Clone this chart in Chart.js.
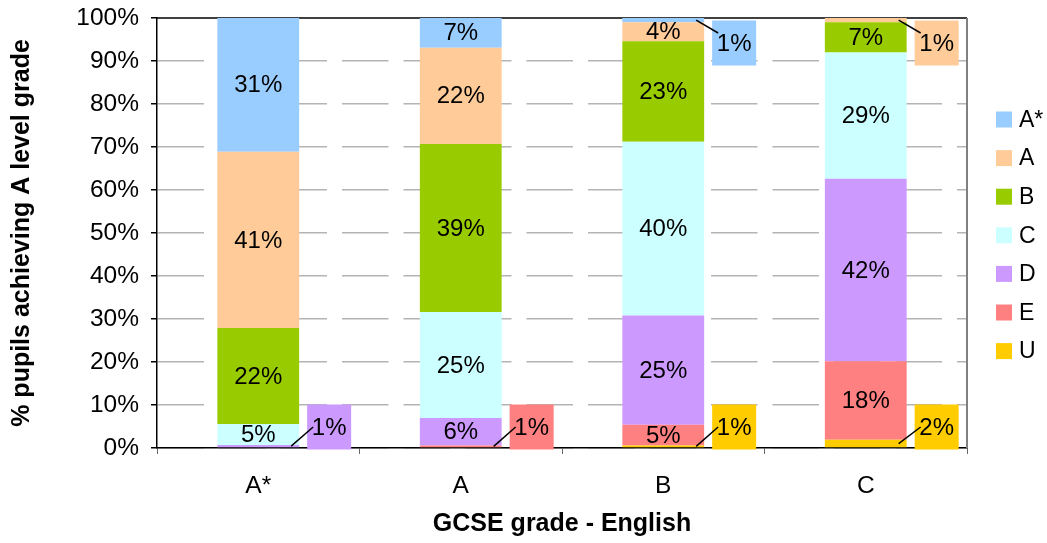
<!DOCTYPE html>
<html>
<head>
<meta charset="utf-8">
<script src="https://cdn.jsdelivr.net/npm/chart.js@4"></script>
<style>
  html, body { margin: 0; padding: 0; background: #fff; }
</style>
</head>
<body>
<canvas id="myChart" width="1047" height="543"></canvas>
<script>
// GCSE English grade (x axis categories)
const categories = ['A*', 'A', 'B', 'C'];

// A level grade shares (%), one array per A level grade, stacked bottom -> top
const gradeU  = [0,    0,    0.6,  1.9];
const gradeE  = [0,    0.6,  4.8,  18.3];
const gradeD  = [0.7,  6.4,  25.4, 42.4];
const gradeC  = [4.9,  24.6, 40.4, 29.4];
const gradeB  = [22.3, 39.1, 23.4, 7.0];
const gradeA  = [41.0, 22.4, 4.4,  1.0];
const gradeAS = [31.1, 6.9,  1.0,  0];

const seriesNames = ['U', 'E', 'D', 'C', 'B', 'A', 'A*'];
const seriesData = [gradeU, gradeE, gradeD, gradeC, gradeB, gradeA, gradeAS];
const seriesColors = ['#FFCC00', '#FF8080', '#CC99FF', '#CCFFFF', '#99CC00', '#FFCC99', '#99CCFF'];

const FONT = "'Liberation Sans', Arial, sans-serif";

// extra lines: solid black 100% line + grey right edge
const frameLines = {
    id: 'frameLines',
    beforeDatasetsDraw(chart) {
        const ctx = chart.ctx, a = chart.chartArea;
        const y100 = chart.scales.y.getPixelForValue(100);
        ctx.save();
        ctx.strokeStyle = '#000';
        ctx.lineWidth = 1.5;
        ctx.beginPath();
        ctx.moveTo(a.left, y100);
        ctx.lineTo(a.right, y100);
        ctx.stroke();
        ctx.strokeStyle = '#808080';
        ctx.lineWidth = 2;
        ctx.beginPath();
        ctx.moveTo(a.right, a.top);
        ctx.lineTo(a.right, a.bottom);
        ctx.stroke();
        ctx.restore();
    }
};

// value labels, small ones get a callout box with a leader line
const valueLabels = {
    id: 'valueLabels',
    afterDatasetsDraw(chart) {
        const ctx = chart.ctx, a = chart.chartArea;
        ctx.save();
        ctx.font = '24px ' + FONT;
        ctx.textAlign = 'center';
        ctx.textBaseline = 'middle';
        chart.data.datasets.forEach((ds, di) => {
            const meta = chart.getDatasetMeta(di);
            meta.data.forEach((el, i) => {
                const v = ds.data[i];
                if (!v) return;
                const p = el.getProps(['x', 'y', 'base', 'width'], true);
                const segC = (p.y + p.base) / 2;
                const txt = Math.round(v) + '%';
                if (v >= 3) {
                    ctx.fillStyle = '#000';
                    ctx.fillText(txt, p.x, segC + 1);
                    return;
                }
                const bw = 44, bh = 45;
                const bx = p.x + p.width / 2 + 8;
                const cy = Math.min(Math.max(segC, a.top + 25), a.bottom - 21);
                ctx.fillStyle = ds.backgroundColor;
                ctx.fillRect(bx, cy - bh / 2, bw, bh);
                ctx.strokeStyle = '#000';
                ctx.lineWidth = 1.5;
                ctx.beginPath();
                ctx.moveTo(p.x + p.width / 2 - 8, segC);
                ctx.lineTo(bx + 6, cy + (segC < cy ? -10 : 0));
                ctx.stroke();
                ctx.fillStyle = '#000';
                ctx.fillText(txt, bx + bw / 2, cy + 1);
            });
        });
        ctx.restore();
    }
};

// legend on the right, A* at top
const sideLegend = {
    id: 'sideLegend',
    afterDraw(chart) {
        const ctx = chart.ctx;
        ctx.save();
        ctx.font = '23px ' + FONT;
        ctx.textAlign = 'left';
        ctx.textBaseline = 'middle';
        const n = seriesNames.length;
        for (let k = 0; k < n; k++) {
            const idx = n - 1 - k;
            const cy = 119.5 + k * 38.6;
            ctx.fillStyle = seriesColors[idx];
            ctx.fillRect(996, cy - 8, 16, 16);
            ctx.fillStyle = '#000';
            ctx.fillText(seriesNames[idx], 1019, cy + 1);
        }
        ctx.restore();
    }
};

const ctx = document.getElementById('myChart').getContext('2d');
const chart = new Chart(ctx, {
    type: 'bar',
    data: {
        labels: categories,
        datasets: seriesNames.map((name, k) => ({
            label: name,
            data: seriesData[k],
            backgroundColor: seriesColors[k],
            borderWidth: 0,
            barPercentage: 0.404,
            categoryPercentage: 1
        }))
    },
    options: {
        responsive: false,
        animation: false,
        devicePixelRatio: 1,
        layout: { padding: { top: 18, right: 80, left: 0, bottom: 0 } },
        plugins: {
            legend: { display: false },
            tooltip: { enabled: false }
        },
        scales: {
            x: {
                stacked: true,
                afterFit(scale) {
                    scale.height = 95;
                    scale.paddingLeft = 0;
                    scale.paddingRight = 0;
                },
                grid: {
                    display: true,
                    drawOnChartArea: false,
                    offset: true,
                    tickLength: 6,
                    tickColor: '#666'
                },
                border: { display: true, color: '#000', width: 1.5 },
                ticks: {
                    color: '#000',
                    padding: 18,
                    font: { family: FONT, size: 24.5 }
                },
                title: {
                    display: true,
                    text: 'GCSE grade - English',
                    color: '#000',
                    font: { family: FONT, size: 25, weight: 'bold' },
                    padding: { top: 0, bottom: 4 }
                }
            },
            y: {
                stacked: true,
                min: 0,
                max: 100,
                afterFit(scale) {
                    scale.width = 157;
                    scale.paddingTop = 0;
                    scale.paddingBottom = 0;
                },
                grid: {
                    color: c => c.tick && c.tick.value === 100 ? 'rgba(0,0,0,0)' : '#b4b4b4',
                    tickColor: '#000',
                    tickLength: 6,
                    lineWidth: 1.5
                },
                border: { display: true, color: '#000', width: 1.5, dash: [46.5, 15] },
                ticks: {
                    stepSize: 10,
                    color: '#000',
                    padding: 12,
                    font: { family: FONT, size: 24.5 },
                    callback: v => v + '%'
                },
                title: {
                    display: true,
                    text: '% pupils achieving A level grade',
                    color: '#000',
                    font: { family: FONT, size: 25, weight: 'bold' },
                    padding: { top: 7, bottom: 0 }
                }
            }
        }
    },
    plugins: [frameLines, valueLabels, sideLegend]
});
</script>
</body>
</html>
